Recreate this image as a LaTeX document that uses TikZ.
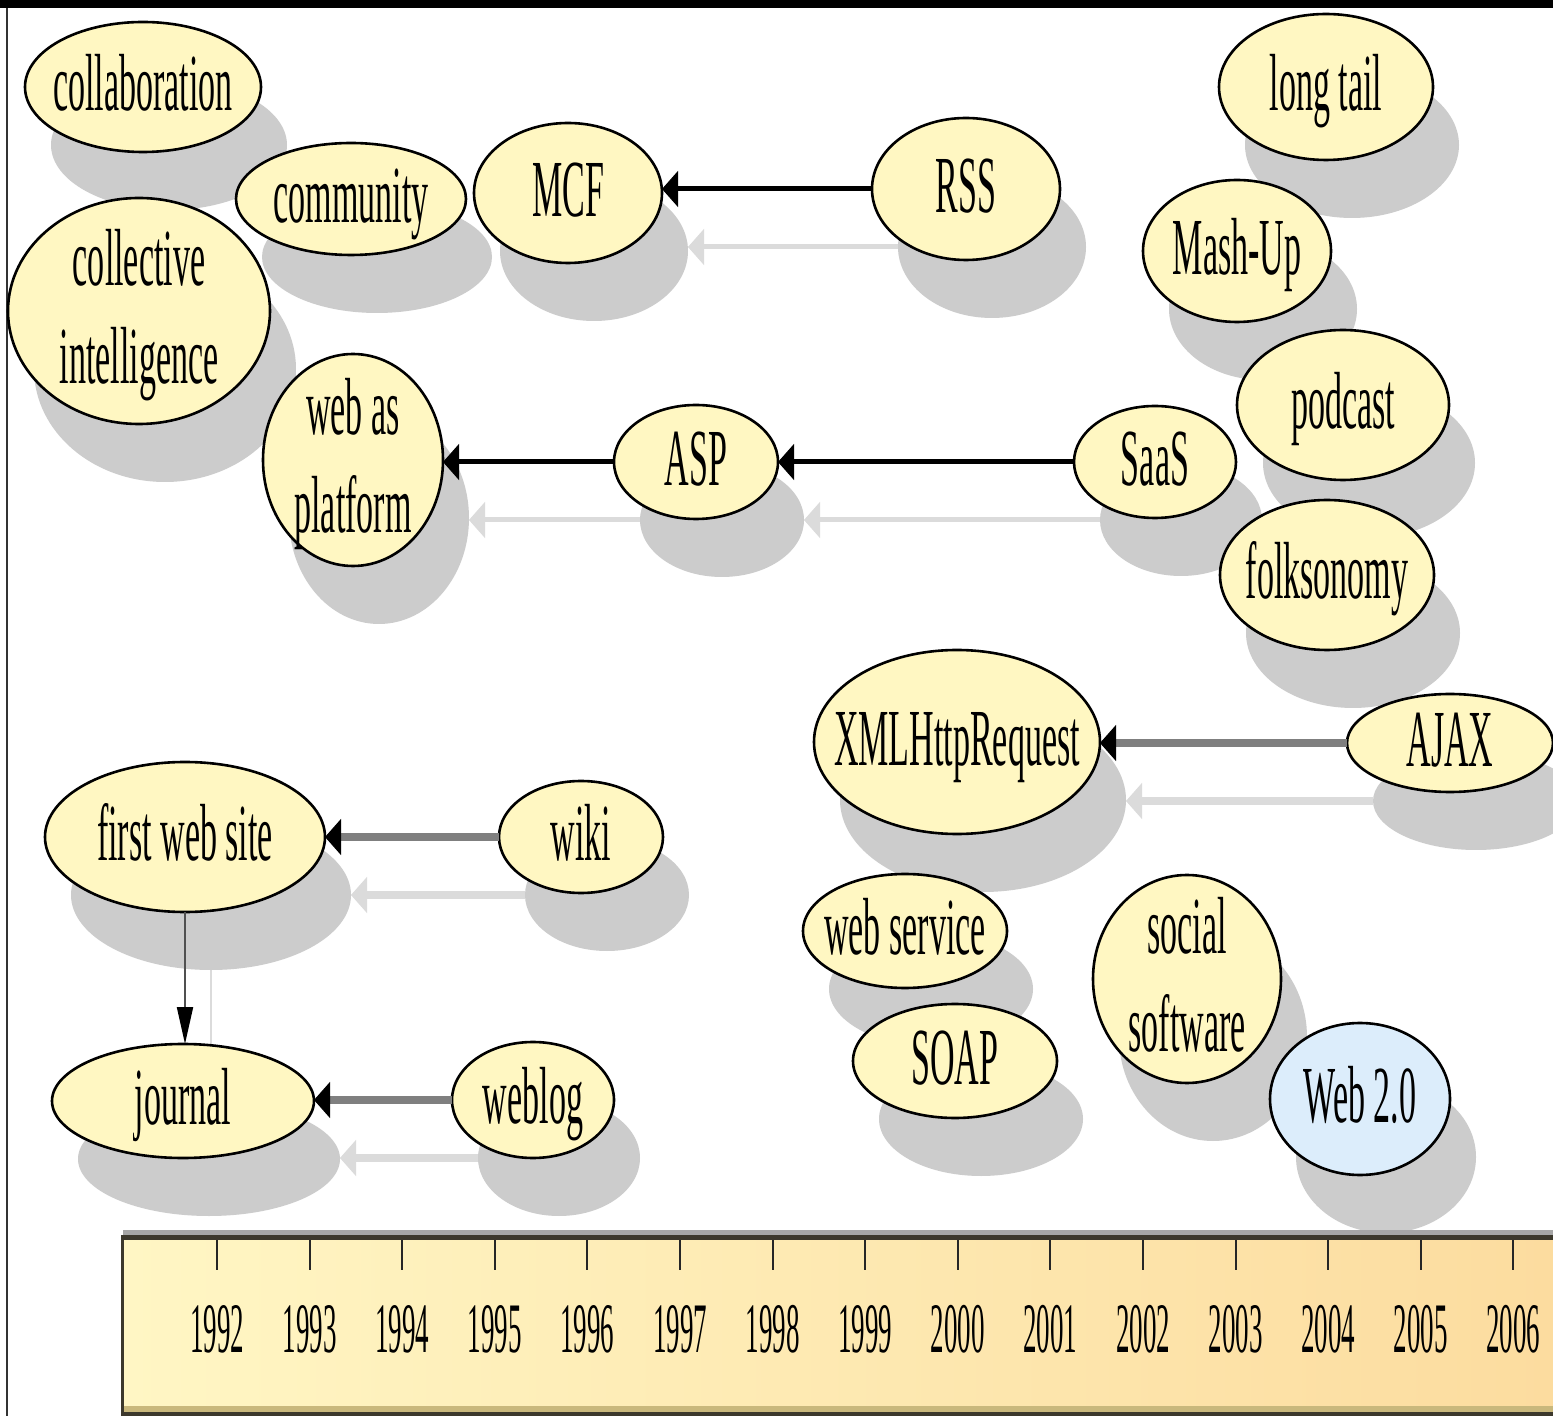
\documentclass[tikz,border=0pt]{standalone}
\usepackage{fontspec}
\newfontfamily\nodefont[FakeStretch=0.42]{Liberation Serif}
\newfontfamily\yearfont[FakeStretch=0.38]{Liberation Serif}
\usetikzlibrary{shapes.geometric,arrows.meta,calc}
\pgfdeclarelayer{paper}
\pgfdeclarelayer{eshadow}
\pgfdeclarelayer{bg}
\pgfsetlayers{paper,eshadow,bg,main}
\definecolor{nodeyellow}{HTML}{FFF7C2}
\definecolor{nodeblue}{HTML}{DCEDFB}
\definecolor{shadowgray}{HTML}{CCCCCC}
\definecolor{edgeshadow}{HTML}{DBDBDB}
\definecolor{edgegray}{HTML}{7F7F7F}
\definecolor{vedgegray}{HTML}{505050}
\definecolor{tlleft}{HTML}{FFF6C4}
\definecolor{tlright}{HTML}{FCDC9F}
\definecolor{tldark}{HTML}{3C382C}
\definecolor{tlkhaki}{HTML}{C9B87C}
\newcommand\ntx[1]{\makebox[0pt]{\raisebox{\dimexpr(\depth-\height)/2-2pt\relax}[0pt][0pt]{\begin{tabular}{@{}c@{}}#1\end{tabular}}}}
\newcommand\enode[7][nodeyellow]{%
  \begin{pgfonlayer}{bg}
    \fill[shadowgray] (#3+26,#4+58) ellipse [x radius={#5*0.5pt}, y radius={#6*0.5pt}];
  \end{pgfonlayer}
  \node[ell, fill=#1, minimum width=#5pt, minimum height=#6pt] (#2) at (#3,#4) {\ntx{#7}};}
\tikzset{
  ell/.style={ellipse, draw=black, line width=1.3pt, inner sep=0pt, outer sep=0pt,
    font=\nodefont\fontsize{40.5}{48.6}\selectfont},
  htip/.style={-{Triangle[length=8pt,width=18pt,line width=0.5pt,#1]}},
  blackedge/.style={htip=black, draw=black, line width=2.5pt},
  grayedge/.style={htip={color=black}, draw=edgegray, line width=3.8pt},
  eshadowline/.style={draw=edgeshadow, htip=edgeshadow},
  vedge/.style={draw=vedgegray, line width=1pt, -{Triangle[length=18.5pt,width=8pt,color=black]}},
  veshadow/.style={draw=edgeshadow, line width=1pt},
  tick/.style={draw=black!85, line width=1pt},
  year/.style={font=\yearfont\fontsize{35.5}{40}\selectfont, anchor=base, inner sep=0pt}
}
\begin{document}
\begin{tikzpicture}[x=0.5pt,y=-0.5pt]
\useasboundingbox (0,0) rectangle (1553,1416);
\begin{pgfonlayer}{paper}
\fill[white] (0,0) rectangle (1553,1416);
\end{pgfonlayer}
% frame
\fill[black] (0,0) rectangle (1553,8);
\fill[black!80] (6,8) rectangle (8,1416);

% timeline
\shade[left color=tlleft, right color=tlright] (123,1238) rectangle (1553,1412);
\fill[black!35] (123,1230) rectangle (1553,1235);
\fill[tldark] (121,1235) rectangle (1553,1240);
\fill[tlkhaki] (123,1406) rectangle (1553,1412);
\fill[tldark] (121,1412) rectangle (1553,1416);
\fill[tldark] (121,1235) rectangle (124,1416);
\foreach \i in {0,...,14}{
  \pgfmathsetmacro\xx{217+92.6*\i}
  \pgfmathtruncatemacro\yr{1992+\i}
  \draw[tick] (\xx,1240) -- (\xx,1270);
  \node[year] (y\yr) at (\xx,1352) {\yr};
}

% nodes
\enode{collab}{143}{87}{118}{65}{collaboration}
\enode{community}{351}{199}{115}{56}{community}
\enode{MCF}{568}{193}{94}{70}{MCF}
\enode{RSS}{966}{189}{94}{71}{RSS}
\enode{collective}{139}{311}{131}{113}{collective\\intelligence}
\enode{webplat}{353}{460}{90}{106}{web as\\platform}
\enode{ASP}{696}{462}{82}{57}{ASP}
\enode{SaaS}{1155}{462}{81}{56}{SaaS}
\enode{longtail}{1326}{87}{107}{73}{long tail}
\enode{mashup}{1237}{251}{94}{71}{Mash-Up}
\enode{podcast}{1343}{405}{106}{75}{podcast}
\enode{folks}{1327}{575}{107}{75}{folksonomy}
\enode{xhr}{957}{742}{143}{92}{XMLHttpRequest}
\enode{ajax}{1450}{743}{103}{49}{AJAX}
\enode{fws}{185}{837}{140}{75}{first web site}
\enode{wiki}{581}{837}{82}{56}{wiki}
\enode{journal}{183}{1101}{131}{57}{journal}
\enode{weblog}{533}{1100}{81}{58}{weblog}
\enode{websvc}{905}{931}{102}{57}{web service}
\enode{soap}{955}{1061}{102}{57}{SOAP}
\enode{social}{1187}{979}{94}{104}{social\\software}
\enode[nodeblue]{web20}{1360}{1099}{90}{76}{Web 2.0}

% edge shadows
\begin{pgfonlayer}{eshadow}
\draw[eshadowline, line width=2.5pt] ($(RSS.west)+(26,58)$) -- ($(RSS.west -| MCF.east)+(26,58)$);
\draw[eshadowline, line width=2.5pt] ($(ASP.west)+(26,58)$) -- ($(ASP.west -| webplat.east)+(26,58)$);
\draw[eshadowline, line width=2.5pt] ($(SaaS.west)+(26,58)$) -- ($(SaaS.west -| ASP.east)+(26,58)$);
\draw[eshadowline, line width=3.8pt] ($(ajax.west)+(26,58)$) -- ($(ajax.west -| xhr.east)+(26,58)$);
\draw[eshadowline, line width=3.8pt] ($(wiki.west)+(26,58)$) -- ($(wiki.west -| fws.east)+(26,58)$);
\draw[eshadowline, line width=3.8pt] ($(weblog.west)+(26,58)$) -- ($(weblog.west -| journal.east)+(26,58)$);
\draw[veshadow] ($(fws.south)+(26,58)$) -- ($(fws.south |- journal.north)+(26,58)$);
\end{pgfonlayer}

% edges
\draw[blackedge] (RSS.west) -- (RSS.west -| MCF.east);
\draw[blackedge] (ASP.west) -- (ASP.west -| webplat.east);
\draw[blackedge] (SaaS.west) -- (SaaS.west -| ASP.east);
\draw[grayedge] (ajax.west) -- (ajax.west -| xhr.east);
\draw[grayedge] (wiki.west) -- (wiki.west -| fws.east);
\draw[grayedge] (weblog.west) -- (weblog.west -| journal.east);
\draw[vedge] (fws.south) -- (fws.south |- journal.north);
\end{tikzpicture}
\end{document}
